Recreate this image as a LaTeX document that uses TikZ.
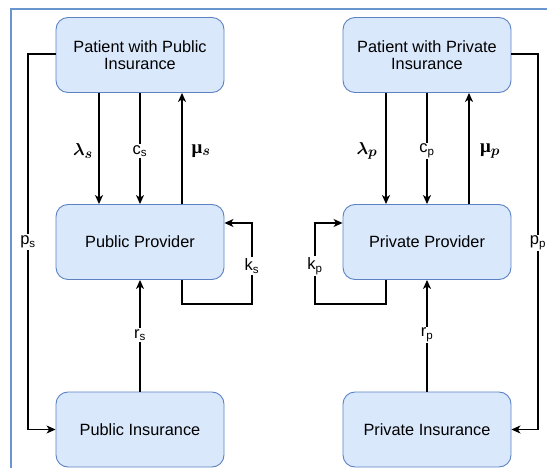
\documentclass[tikz,border=0pt]{standalone}
\usepackage{fontspec}
\setmainfont{Liberation Sans}
\newfontfamily\serifmu{Liberation Serif}
\usepackage{bm}
\usetikzlibrary{arrows.meta}
\definecolor{boxfill}{HTML}{DAE8FC}
\definecolor{boxline}{HTML}{5C82C4}
\definecolor{frameline}{HTML}{6A96CF}
\tikzset{
  boxnode/.style={draw=boxline, fill=boxfill, line width=0.9pt, rounded corners=12pt,
    minimum width=168pt, minimum height=75pt, align=center, inner sep=0pt,
    font=\fontsize{16.3}{17.5}\selectfont},
  arr/.style={line width=1.2pt, -{Stealth[length=9pt,width=8pt,inset=2.5pt]}},
  lbl/.style={font=\fontsize{16.5}{17}\selectfont, inner sep=1.5pt},
  mlbl/.style={font=\fontsize{19}{20}\selectfont, inner sep=1.5pt},
  onlbl/.style={lbl, fill=white}
}
\begin{document}
\begin{tikzpicture}[x=1pt,y=-1pt]
\useasboundingbox (0,0) rectangle (547,468);
\clip (0,0) rectangle (547,468);
% frame
\draw[frameline, line width=1.8pt] (11,470) -- (11,9) -- (550,9);
% boxes
\node[boxnode] (pubpat) at (140,55) {Patient with Public\\Insurance};
\node[boxnode] (pubprov) at (140,242) {Public Provider};
\node[boxnode] (pubins) at (140,429.5) {Public Insurance};
\node[boxnode] (pripat) at (427,55) {Patient with Private\\Insurance};
\node[boxnode] (priprov) at (427,242) {Private Provider};
\node[boxnode] (priins) at (427,429.5) {Private Insurance};
% left column
\draw[arr] ([xshift=-41pt]pubpat.south) -- ([xshift=-41pt]pubprov.north);
\draw[arr] (pubpat.south) -- (pubprov.north);
\draw[arr] ([xshift=42pt]pubprov.north) -- ([xshift=42pt]pubpat.south);
\draw[arr] (pubins.north) -- (pubprov.south);
\draw[arr] ([yshift=1pt]pubpat.west) -- (28,54) |- (pubins.west);
\draw[arr] ([xshift=42pt]pubprov.south) |- (252,304) |- ([yshift=19pt]pubprov.east);
% right column
\draw[arr] ([xshift=-41pt]pripat.south) -- ([xshift=-41pt]priprov.north);
\draw[arr] (pripat.south) -- (priprov.north);
\draw[arr] ([xshift=42pt]priprov.north) -- ([xshift=42pt]pripat.south);
\draw[arr] (priins.north) -- (priprov.south);
\draw[arr] ([yshift=1pt]pripat.east) -- (538,54) |- (priins.east);
\draw[arr] ([xshift=-41pt]priprov.south) |- (315,304) |- ([yshift=19pt]priprov.west);
% labels
\node[mlbl] (llams) at (83,151) {$\bm{\lambda}_{\bm{s}}$};
\node[onlbl] (lcs) at (140,151) {c\textsubscript{s}};
\node[mlbl] (lmus) at (201,151) {{\serifmu\bfseries μ}$_{\bm{s}}$};
\node[mlbl] (llamp) at (367,151) {$\bm{\lambda}_{\bm{p}}$};
\node[onlbl] (lcp) at (427,151) {c\textsubscript{p}};
\node[mlbl] (lmup) at (490,151) {{\serifmu\bfseries μ}$_{\bm{p}}$};
\node[onlbl] (lps) at (28,242) {p\textsubscript{s}};
\node[onlbl] (lpp) at (538,243) {p\textsubscript{p}};
\node[onlbl] (lks) at (252,266) {k\textsubscript{s}};
\node[onlbl] (lkp) at (315,266) {k\textsubscript{p}};
\node[onlbl] (lrs) at (140,335) {r\textsubscript{s}};
\node[onlbl] (lrp) at (427,335) {r\textsubscript{p}};
\end{tikzpicture}
\end{document}
